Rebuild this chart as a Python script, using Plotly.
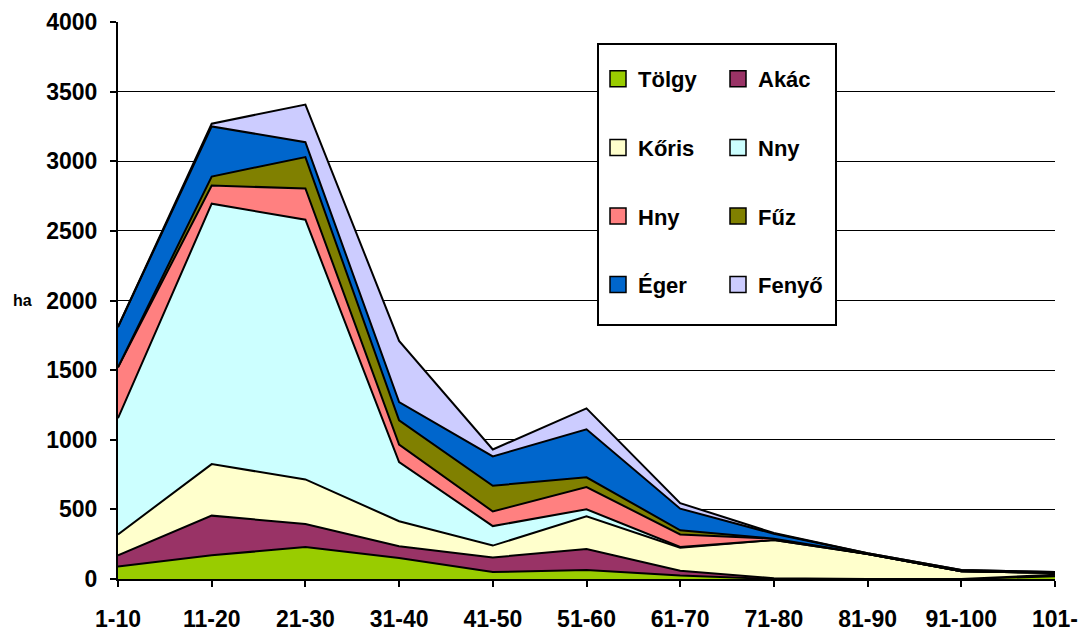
import plotly.graph_objects as go

categories = ["1-10", "11-20", "21-30", "31-40", "41-50", "51-60",
              "61-70", "71-80", "81-90", "91-100", "101-"]

tolgy = [90, 170, 230, 150, 50, 65, 25, 0, 0, 0, 20]
akac = [80, 285, 165, 85, 105, 150, 35, 5, 0, 0, 10]
koris = [150, 370, 320, 180, 85, 235, 165, 275, 180, 55, 15]
nny = [835, 1870, 1865, 425, 140, 50, 5, 0, 0, 0, 0]
hny = [365, 130, 225, 125, 105, 160, 90, 10, 0, 0, 0]
fuz = [0, 65, 225, 175, 185, 70, 30, 0, 0, 0, 0]
eger = [290, 360, 107, 130, 210, 345, 155, 35, 5, 10, 5]
fenyo = [0, 20, 270, 440, 50, 150, 40, 5, 0, 0, 0]

series = [
    ("Tölgy", tolgy, "#99CC00", "legend"),
    ("Akác", akac, "#993366", "legend2"),
    ("Kőris", koris, "#FFFFCC", "legend"),
    ("Nny", nny, "#CCFFFF", "legend2"),
    ("Hny", hny, "#FF8080", "legend"),
    ("Fűz", fuz, "#808000", "legend2"),
    ("Éger", eger, "#0066CC", "legend"),
    ("Fenyő", fenyo, "#CCCCFF", "legend2"),
]

FONT = "Liberation Sans, Arial, sans-serif"

fig = go.Figure()
for name, vals, color, _ in series:
    fig.add_trace(go.Scatter(
        x=categories, y=vals, name=name, mode="lines",
        stackgroup="one", fillcolor=color,
        line=dict(color="black", width=2),
        showlegend=False,
    ))

# legend entries (two columns)
for name, vals, color, lg in series:
    fig.add_trace(go.Scatter(
        x=[None], y=[None], name=name, mode="markers",
        marker=dict(symbol="square", size=17, color=color,
                    line=dict(color="black", width=1.5)),
        legend=lg, legendgroup=name,
    ))

# plot area in figure pixels: x 110..1047, y 14..571
def px_x(p):
    return (p - 110) / 937

def px_y(p):
    return (571 - p) / 557

legend_style = dict(
    font=dict(family=FONT, size=22, color="black", weight="bold"),
    bgcolor="rgba(0,0,0,0)", borderwidth=0,
    traceorder="grouped", tracegroupgap=37,
    xanchor="left", yanchor="top", itemwidth=30,
)

fig.update_layout(
    width=1090, height=630,
    margin=dict(l=110, r=43, t=14, b=59),
    paper_bgcolor="white", plot_bgcolor="white",
    font=dict(family=FONT, color="black"),
    legend=dict(x=px_x(590), y=px_y(50), **legend_style),
    legend2=dict(x=px_x(710), y=px_y(50), **legend_style),
    xaxis=dict(
        type="category", range=[0, 10], showgrid=False, automargin=False,
        showline=True, linecolor="black", linewidth=2,
        ticks="outside", ticklen=6, tickwidth=2, tickcolor="black",
        tickfont=dict(family=FONT, size=23, color="black", weight="bold"),
        ticklabelstandoff=12,
    ),
    yaxis=dict(
        range=[0, 4000], dtick=500, showgrid=True, automargin=False,
        gridcolor="black", gridwidth=1,
        showline=True, linecolor="black", linewidth=2,
        ticks="outside", ticklen=6, tickwidth=2, tickcolor="black",
        tickfont=dict(family=FONT, size=23, color="black", weight="bold"),
        ticklabelstandoff=8, zeroline=False,
    ),
    shapes=[dict(
        type="rect", xref="paper", yref="paper", layer="above",
        x0=px_x(590), x1=px_x(828), y0=px_y(317), y1=px_y(36),
        fillcolor="white", line=dict(color="black", width=2),
    )],
    annotations=[dict(
        text="ha", xref="paper", yref="y", x=px_x(14), y=2000,
        showarrow=False, xanchor="center", yanchor="middle",
        font=dict(family=FONT, size=16, color="black", weight="bold"),
    )],
)

fig.write_html("out.html")
